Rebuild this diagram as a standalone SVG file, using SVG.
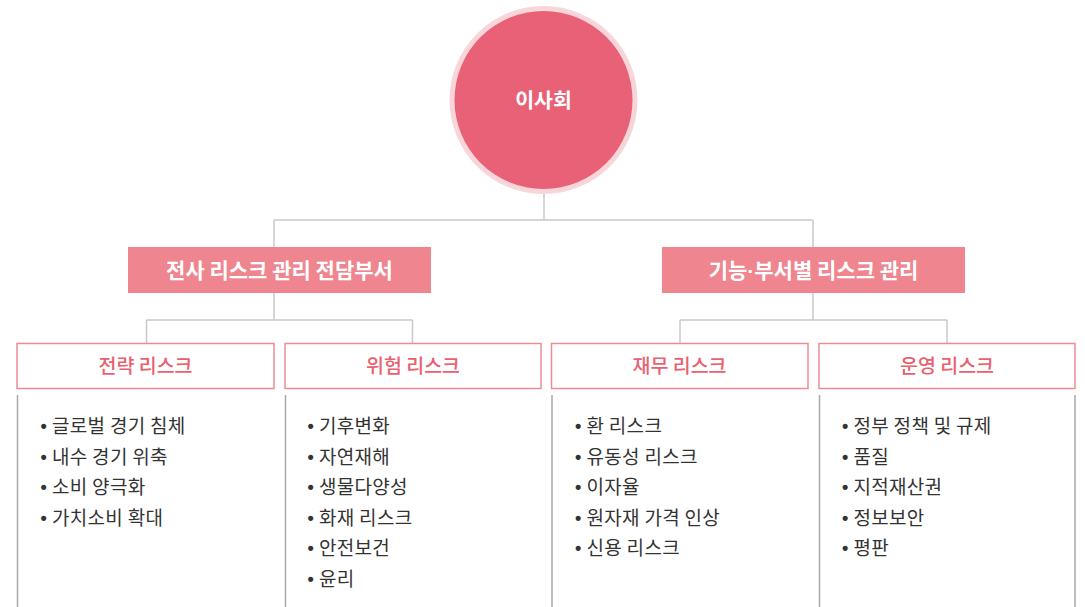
<svg xmlns="http://www.w3.org/2000/svg" width="1085" height="607" viewBox="0 0 1085 607">
<style>
text{font-family:"Noto Sans CJK KR","Noto Sans",sans-serif}
.conn{fill:none;stroke:#c9c9c9;stroke-width:1.5}
.side{fill:none;stroke:#a8a8a8;stroke-width:1.5}
.hdr{fill:#ee858f}
.hdrt{fill:#fff;font-size:21px;font-weight:700;text-anchor:middle}
.sub{fill:#fff;stroke:#ef8a94;stroke-width:1.5}
.subt{fill:#e9606f;font-size:19.5px;font-weight:500;text-anchor:middle}
.item{fill:#333;font-size:19px;letter-spacing:0.3px}
.b{font-family:"Liberation Sans",sans-serif;font-size:18px;font-weight:700}
.md{font-family:"Liberation Sans",sans-serif}
</style>
<g id="connectors">
<path class="conn" d="M544,194V220M274,220H813M274,220V247M813,220V247"/>
<path class="conn" d="M274,293V320M146.5,320H412.5M146.5,320V343M412.5,320V343"/>
<path class="conn" d="M813,293V320M680,320H947M680,320V343M947,320V343"/>
</g>
<g id="board">
<circle cx="543.5" cy="100" r="94" fill="#f8d5d8"/>
<circle cx="543.5" cy="100" r="89" fill="#e96176"/>
<text x="543.5" y="107.5" class="hdrt" style="font-size:20.5px">이사회</text>
</g>
<g id="hq">
<rect class="hdr" x="128" y="247" width="303" height="46"/>
<text x="279.5" y="277.5" class="hdrt">전사 리스크 관리 전담부서</text>
</g>
<g id="dept">
<rect class="hdr" x="662" y="247" width="303" height="46"/>
<text x="813.5" y="277.5" class="hdrt">기능<tspan class="md">·</tspan>부서별 리스크 관리</text>
</g>
<g id="strategy">
<rect class="sub" x="17" y="343.5" width="257" height="45"/>
<text x="145.5" y="373" class="subt">전략 리스크</text>
<path class="side" d="M17.5,395V607"/>
<text class="item"><tspan class="b" x="40.5" y="432">•</tspan><tspan x="52" y="433">글로벌 경기 침체</tspan><tspan class="b" x="40.5" y="462.5">•</tspan><tspan x="52" y="463.5">내수 경기 위축</tspan><tspan class="b" x="40.5" y="493">•</tspan><tspan x="52" y="494">소비 양극화</tspan><tspan class="b" x="40.5" y="523.5">•</tspan><tspan x="52" y="524.5">가치소비 확대</tspan></text>
</g>
<g id="hazard">
<rect class="sub" x="285" y="343.5" width="256" height="45"/>
<text x="413" y="373" class="subt">위험 리스크</text>
<path class="side" d="M285.5,395V607"/>
<text class="item"><tspan class="b" x="307.5" y="432">•</tspan><tspan x="319" y="433">기후변화</tspan><tspan class="b" x="307.5" y="462.5">•</tspan><tspan x="319" y="463.5">자연재해</tspan><tspan class="b" x="307.5" y="493">•</tspan><tspan x="319" y="494">생물다양성</tspan><tspan class="b" x="307.5" y="523.5">•</tspan><tspan x="319" y="524.5">화재 리스크</tspan><tspan class="b" x="307.5" y="554">•</tspan><tspan x="319" y="555">안전보건</tspan><tspan class="b" x="307.5" y="584.5">•</tspan><tspan x="319" y="585.5">윤리</tspan></text>
</g>
<g id="finance">
<rect class="sub" x="551.5" y="343.5" width="256.5" height="45"/>
<text x="679.5" y="373" class="subt">재무 리스크</text>
<path class="side" d="M552,395V607"/>
<text class="item"><tspan class="b" x="575" y="432">•</tspan><tspan x="586.5" y="433">환 리스크</tspan><tspan class="b" x="575" y="462.5">•</tspan><tspan x="586.5" y="463.5">유동성 리스크</tspan><tspan class="b" x="575" y="493">•</tspan><tspan x="586.5" y="494">이자율</tspan><tspan class="b" x="575" y="523.5">•</tspan><tspan x="586.5" y="524.5">원자재 가격 인상</tspan><tspan class="b" x="575" y="554">•</tspan><tspan x="586.5" y="555">신용 리스크</tspan></text>
</g>
<g id="operation">
<rect class="sub" x="819" y="343.5" width="256" height="45"/>
<text x="947" y="373" class="subt">운영 리스크</text>
<path class="side" d="M819.5,395V607M1075,395V607"/>
<text class="item"><tspan class="b" x="842" y="432">•</tspan><tspan x="853.5" y="433">정부 정책 및 규제</tspan><tspan class="b" x="842" y="462.5">•</tspan><tspan x="853.5" y="463.5">품질</tspan><tspan class="b" x="842" y="493">•</tspan><tspan x="853.5" y="494">지적재산권</tspan><tspan class="b" x="842" y="523.5">•</tspan><tspan x="853.5" y="524.5">정보보안</tspan><tspan class="b" x="842" y="554">•</tspan><tspan x="853.5" y="555">평판</tspan></text>
</g>
</svg>
